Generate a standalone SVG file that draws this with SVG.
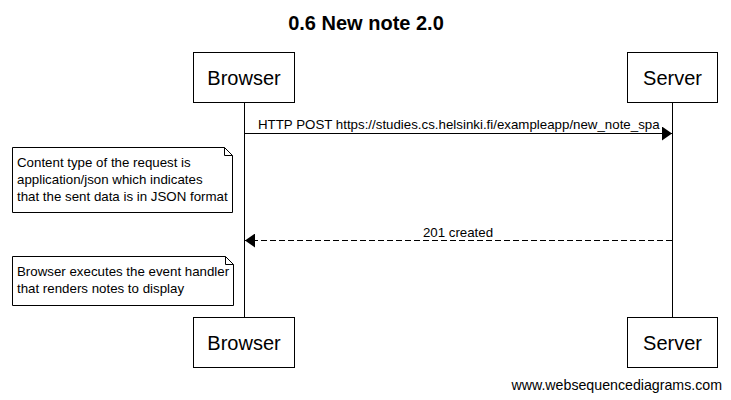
<svg xmlns="http://www.w3.org/2000/svg" width="731" height="400" viewBox="0 0 731 400">
<style>
text{font-family:"Liberation Sans",Arial,sans-serif;fill:#000}
.box{fill:#fff;stroke:#000;stroke-width:1}
.life{stroke:#000;stroke-width:1}
.p{font-size:20px;text-anchor:middle}
.m{font-size:13.3px}
.n{font-size:13.3px}
</style>
<defs>
<marker id="ah" markerWidth="10" markerHeight="14" refX="10" refY="7" orient="auto" markerUnits="userSpaceOnUse">
<path d="M0,0 L10,7 L0,14 Z" fill="#000"/>
</marker>
</defs>
<rect width="731" height="400" fill="#fff"/>
<text x="366" y="30" font-size="20" font-weight="bold" text-anchor="middle">0.6 New note 2.0</text>
<g id="lifelines">
<line class="life" x1="244.5" y1="102" x2="244.5" y2="317"/>
<line class="life" x1="672.5" y1="102" x2="672.5" y2="317"/>
</g>
<g id="browser-top"><rect class="box" x="193.5" y="52.5" width="101" height="50"/><text class="p" x="244" y="85">Browser</text></g>
<g id="server-top"><rect class="box" x="627.5" y="52.5" width="90" height="50"/><text class="p" x="672.5" y="85">Server</text></g>
<g id="browser-bottom"><rect class="box" x="193.5" y="317.5" width="101" height="50"/><text class="p" x="244" y="350">Browser</text></g>
<g id="server-bottom"><rect class="box" x="627.5" y="317.5" width="90" height="50"/><text class="p" x="672.5" y="350">Server</text></g>
<g id="connectors">
<line x1="244.5" y1="133.5" x2="672" y2="133.5" stroke="#000" marker-end="url(#ah)"/>
<text class="m" x="258" y="129">HTTP POST https://studies.cs.helsinki.fi/exampleapp/new_note_spa</text>
<line x1="672" y1="240.5" x2="245" y2="240.5" stroke="#000" stroke-dasharray="6,3" marker-end="url(#ah)"/>
<text class="m" x="458" y="237" text-anchor="middle">201 created</text>
</g>
<g id="note1">
<path class="box" d="M12.5,147.5 H224.5 L232.5,155.5 V212.5 H12.5 Z"/>
<path d="M224.5,147.5 V155.5 H232.5" fill="none" stroke="#000"/>
<text class="n" x="17" y="167">Content type of the request is</text>
<text class="n" x="17" y="184">application/json which indicates</text>
<text class="n" x="17" y="201">that the sent data is in JSON format</text>
</g>
<g id="note2">
<path class="box" d="M12.5,256.5 H225.5 L233.5,264.5 V305.5 H12.5 Z"/>
<path d="M225.5,256.5 V264.5 H233.5" fill="none" stroke="#000"/>
<text class="n" x="17" y="276">Browser executes the event handler</text>
<text class="n" x="17" y="293">that renders notes to display</text>
</g>
<text x="722" y="390" font-size="14.2" text-anchor="end">www.websequencediagrams.com</text>
</svg>
